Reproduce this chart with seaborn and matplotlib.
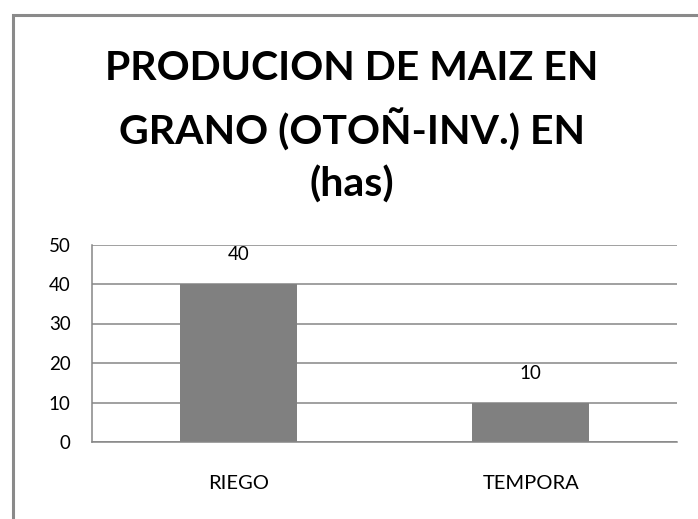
import matplotlib
matplotlib.use("Agg")
import matplotlib.pyplot as plt
import seaborn as sns
import pandas as pd
from matplotlib.patches import Rectangle

categories = ["RIEGO", "TEMPORA"]
values = [40, 10]
yticks = [0, 10, 20, 30, 40, 50]
title_lines = ["PRODUCION DE MAIZ EN", "GRANO (OTOÑ-INV.) EN", "(has)"]

sns.set_theme(style="white")
plt.rcParams['font.family'] = ['Lato', 'DejaVu Sans']

W, H = 698, 519
fig = plt.figure(figsize=(W / 100, H / 100), dpi=100)
fig.patch.set_facecolor("white")

# figure border
fig.patches.append(Rectangle((12.5 / W, -0.05), 1.1, 1 - 14.5 / H + 0.05,
                             transform=fig.transFigure, fill=False,
                             edgecolor="#8a8a8a", linewidth=2.2))

ax = fig.add_axes([92 / W, 1 - 442 / H, (677 - 92) / W, (442 - 244.5) / H])
df = pd.DataFrame({"cat": categories, "val": values})
sns.barplot(data=df, x="cat", y="val", color="#808080", width=0.4,
            saturation=1, linewidth=0, ax=ax)

ax.set_ylim(0, 50)
ax.set_xlim(-0.5, 1.5)
ax.set_yticks(yticks)
ax.set_xlabel("")
ax.set_ylabel("")
ax.grid(axis="y", color="#868686", linewidth=1.1)
ax.set_axisbelow(True)
for s in ["top", "right"]:
    ax.spines[s].set_visible(False)
for s in ["left", "bottom"]:
    ax.spines[s].set_color("#868686")
    ax.spines[s].set_linewidth(1.1)

ax.set_xticks([-0.5, 0.5, 1.5], minor=True)
ax.tick_params(axis="x", which="major", length=0, pad=24, labelsize=14.5,
               labelcolor="black")
ax.tick_params(axis="x", which="minor", length=6, width=1.1, color="#868686",
               direction="out")
ax.tick_params(axis="y", length=6.5, width=1.1, color="#868686", direction="out",
               labelsize=13.5, pad=9, labelcolor="black")
ax.tick_params(axis="y", which="minor", length=0)
ax.set_xticks([0, 1])
ax.set_xticklabels(categories)

for c in ax.containers:
    ax.bar_label(c, labels=[str(v) for v in values], padding=15, fontsize=13.5,
                 color="black")

ys = [80, 145, 197]
for t, y in zip(title_lines, ys):
    fig.text(352 / W, 1 - y / H, t, ha="center", va="baseline", fontsize=29.5,
             fontweight="bold", color="black")

fig.savefig("out.png", dpi=100, facecolor="white")
